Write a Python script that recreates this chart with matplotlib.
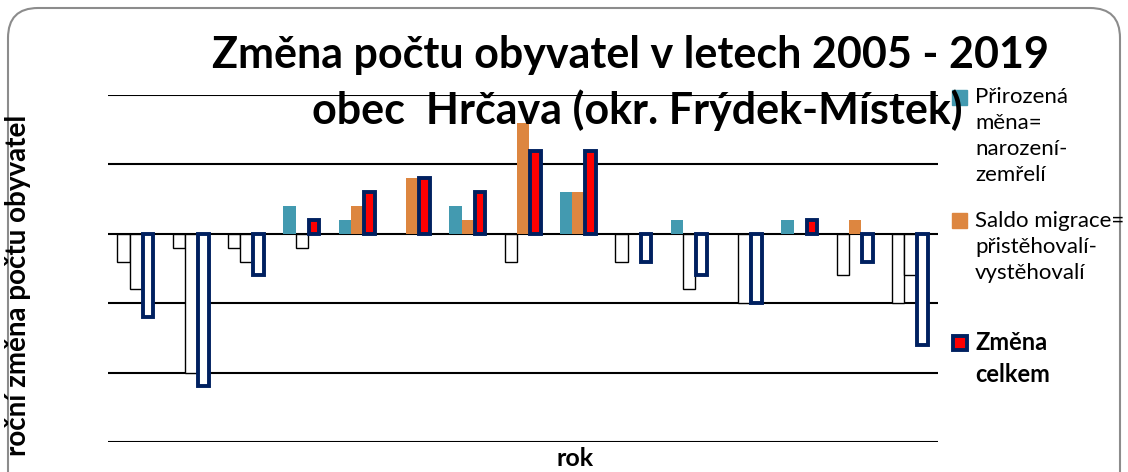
import numpy as np
import matplotlib.pyplot as plt
from matplotlib.patches import FancyBboxPatch, Rectangle

plt.rcParams['font.family'] = ['Lato', 'DejaVu Sans']

roky = list(range(2005, 2020))
prirozena = [-2, -1, -1, 2, 1, 0, 2, -2, 3, -2, 1, 0, 1, -3, -5]
migrace = [-4, -10, -2, -1, 2, 4, 1, 8, 3, 0, -4, -5, 0, 1, -3]
celkem = [-6, -11, -3, 1, 3, 4, 3, 6, 6, -2, -3, -5, 1, -2, -8]

teal = '#439AB0'
orange = '#DD8640'
navy = '#002060'

fig = plt.figure(figsize=(11.28, 4.72), dpi=100)
ax = fig.add_axes([108/1128, 30/472, 830/1128, 347/472])

x = np.arange(len(roky))
w = 0.222

def barvy(vals, col):
    return [col if v >= 0 else 'white' for v in vals]

def okraje(vals):
    return ['none' if v >= 0 else 'black' for v in vals]

ax.bar(x - w, prirozena, w, color=barvy(prirozena, teal),
       edgecolor=okraje(prirozena), linewidth=1, zorder=2)
ax.bar(x, migrace, w, color=barvy(migrace, orange),
       edgecolor=okraje(migrace), linewidth=1, zorder=2)
ax.bar(x + w, celkem, w * 0.85, color=barvy(celkem, 'red'),
       edgecolor=navy, linewidth=2.8, zorder=3)

ax.set_xlim(-0.5, len(roky) - 0.5)
ax.set_ylim(-15, 10)
ax.set_yticks([-15, -10, -5, 0, 5, 10])
ax.yaxis.grid(True, color='black', linewidth=1.5)
ax.set_axisbelow(True)
ax.set_xticks([])
ax.tick_params(left=False, labelleft=False)
for s in ax.spines.values():
    s.set_visible(False)

# titles and axis labels
fig.text(631/1128, 1 - 55/472, 'Změna počtu obyvatel v letech 2005 - 2019',
         ha='center', va='center', fontsize=31, fontweight='bold')
fig.text(637/1128, 1 - 110/472, 'obec  Hrčava (okr. Frýdek-Místek)',
         ha='center', va='center', fontsize=31, fontweight='bold')
fig.text(18/1128, 1 - 285/472, 'roční změna počtu obyvatel', rotation=90,
         ha='center', va='center', fontsize=20, fontweight='bold')
fig.text(575/1128, 1 - 459/472, 'rok', ha='center', va='center',
         fontsize=18, fontweight='bold')

# legend drawn by hand
def px(xp, yp):
    return xp/1128, 1 - yp/472

fig.patches.append(Rectangle(px(952, 105), 15/1128, 15/472, color=teal,
                             transform=fig.transFigure))
fig.text(*px(975, 87), 'Přirozená\nměna=\nnarození-\nzemřelí', va='top',
         fontsize=16, linespacing=1.37)
fig.patches.append(Rectangle(px(952, 228), 15/1128, 15/472, color=orange,
                             transform=fig.transFigure))
fig.text(*px(975, 211), 'Saldo migrace=\npřistěhovalí-\nvystěhovalí', va='top',
         fontsize=16, linespacing=1.37)
fig.patches.append(Rectangle(px(953, 350), 14/1128, 14/472, facecolor='red',
                             edgecolor=navy, linewidth=2.8,
                             transform=fig.transFigure))
fig.text(*px(975, 331), 'Změna\ncelkem', va='top', fontsize=17,
         fontweight='bold', linespacing=1.45)

# rounded frame
fig.patches.append(FancyBboxPatch((0.08, -0.3), 11.12, 4.94,
                                  boxstyle='round,pad=0,rounding_size=0.3',
                                  facecolor='none', edgecolor='#8c8c8c',
                                  linewidth=1.5, transform=fig.dpi_scale_trans))

fig.savefig('out.png', dpi=100)
